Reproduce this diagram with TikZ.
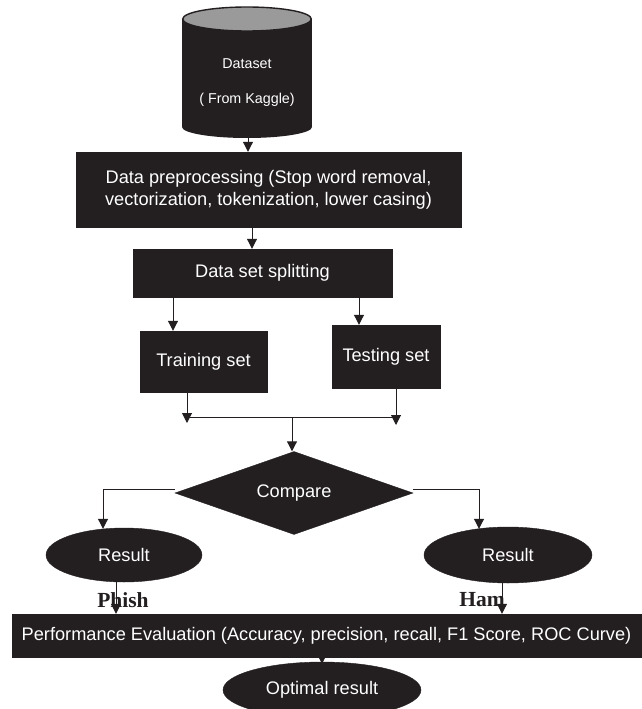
\documentclass[tikz,border=0pt]{standalone}
\usepackage{fontspec}
\setmainfont{Liberation Sans}
\newfontfamily\labelserif{Liberation Serif}
\usetikzlibrary{arrows.meta,shapes.geometric}
\definecolor{ink}{HTML}{231F20}
\definecolor{captop}{HTML}{9A9A9A}
\tikzset{
  arr/.style={draw=ink, line width=1pt, -{Triangle[length=10pt,width=10pt]}},
  ln/.style={draw=ink, line width=1pt},
  blk/.style={fill=ink, draw=ink, text=white, inner sep=0pt, align=center,
              font=\fontsize{18.2}{22}\selectfont},
  blkbox/.style={blk, rectangle},
  blkell/.style={blk, ellipse},
  branchlabel/.style={font=\labelserif\bfseries\fontsize{21.5}{24}\selectfont, text=ink, inner sep=0pt, anchor=base}
}
\begin{document}
\begin{tikzpicture}[x=1pt,y=1pt]
\useasboundingbox (0,0) rectangle (642,-709);

% cylinder (dataset)
\fill[ink] (247,-127) ellipse [x radius=65pt, y radius=11pt];
\fill[ink] (182,-19) rectangle (312,-127);
\filldraw[fill=captop, draw=ink, line width=1.4pt] (247,-19) ellipse [x radius=64.3pt, y radius=12pt];
\node[text=white, align=center, inner sep=0pt, font=\fontsize{14.3}{35}\selectfont] (ds) at (247,-82.5) {Dataset\\( From Kaggle)};
\coordinate (dsb) at (248,-138);

% boxes
\node[blkbox, minimum width=385pt, minimum height=75pt] (prep) at (268.5,-189.5)
  {Data preprocessing (Stop word removal,\\vectorization, tokenization, lower casing)};
\node[blkbox, minimum width=259pt, minimum height=48pt] (split) at (262.5,-273) {Data set splitting};
\node[blkbox, minimum width=127pt, minimum height=61pt] (train) at (203.5,-361.5) {Training set};
\node[blkbox, minimum width=108pt, minimum height=63pt] (test) at (386,-356.5) {Testing set};
\node[blk, diamond, aspect=2.87, minimum width=238pt, minimum height=83pt] (cmp) at (294,-493) {Compare};
\node[blkell, minimum width=156pt, minimum height=54pt] (res1) at (124,-555) {Result};
\node[blkell, minimum width=168pt, minimum height=56pt] (res2) at (508,-555) {Result};
\node[blkbox, minimum width=629pt, minimum height=43pt] (perf) at (326.5,-635.5)
  {Performance Evaluation (Accuracy, precision, recall, F1 Score, ROC Curve)};
\node[blkell, minimum width=198pt, minimum height=56pt] (opt) at (322,-690) {Optimal result};

% labels
\node[branchlabel] (phish) at (123,-607) {Phish};
\node[branchlabel] (ham) at (482,-606) {Ham};

% helper coordinates
\coordinate (c1) at (252,0);
\coordinate (c2) at (173,0);
\coordinate (c3) at (359,0);
\coordinate (c4) at (187,0);
\coordinate (c5) at (396,0);
\coordinate (j) at (292,-417);
\coordinate (lb) at (103,-489);
\coordinate (rb) at (479,-489);
\coordinate (c6) at (116,0);
\coordinate (c7) at (502,0);

% connectors
\draw[arr] (dsb) -- (dsb |- prep.north);
\draw[arr] (prep.south -| c1) -- (split.north -| c1);
\draw[arr] (split.south -| c2) -- (train.north -| c2);
\draw[arr] (split.south -| c3) -- (test.north -| c3);
\draw[arr] (train.south -| c4) -- ([yshift=-6pt]j -| c4);
\draw[arr] (test.south -| c5) -- ([yshift=-8pt]j -| c5);
\draw[ln] (j -| c4) -- (j -| c5);
\draw[arr] (j) -- (j |- cmp.north);
\draw[arr] (cmp.west |- lb) -- (lb) -- ([yshift=-1pt]lb |- res1.north);
\draw[arr] (cmp.east |- rb) -- (rb) -- ([yshift=-2pt]rb |- res2.north);
\draw[arr] (res1.south -| c6) -- (perf.north -| c6);
\draw[arr] (res2.south -| c7) -- (perf.north -| c7);
\draw[arr] (perf.south -| opt) -- ([yshift=-2pt]opt.north);
\end{tikzpicture}
\end{document}
